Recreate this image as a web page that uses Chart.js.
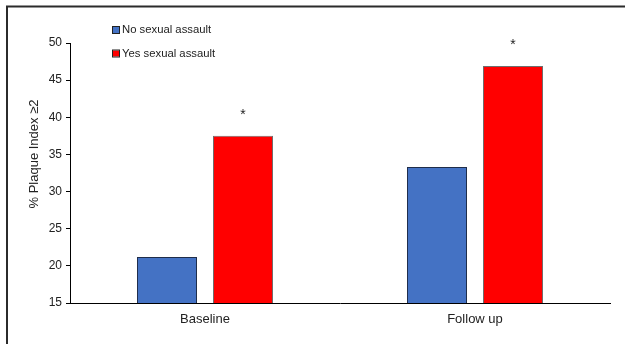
<!DOCTYPE html>
<html>
<head>
<meta charset="utf-8">
<script src="https://cdn.jsdelivr.net/npm/chart.js@4"></script>
<style>
  html, body { margin: 0; padding: 0; background: #fff; }
  #wrap { width: 625px; height: 344px; }
</style>
</head>
<body>
<div id="wrap"><canvas id="chart" width="625" height="344"></canvas></div>
<script>
const categories = ["Baseline", "Follow up"]
const noAssault = [21.2, 33.3]
const yesAssault = [37.5, 46.9]
const yesMarks = ["*", "*"]
const yTicks = [15, 20, 25, 30, 35, 40, 45, 50]
const yTitle = "% Plaque Index \u22652"

const FONT = "'Liberation Sans', Arial, sans-serif"

// frame, legend, y title and significance marks
const extras = {
  id: "extras",
  beforeDraw(chart) {
    const ctx = chart.ctx
    ctx.save()
    ctx.strokeStyle = "#2b2b2b"
    ctx.lineWidth = 2
    ctx.beginPath()
    ctx.moveTo(7, 360)
    ctx.lineTo(7, 6.5)
    ctx.lineTo(640, 6.5)
    ctx.stroke()
    ctx.restore()
  },
  afterDatasetsDraw(chart) {
    const ctx = chart.ctx
    ctx.save()
    ctx.fillStyle = "#222"
    ctx.font = "14px " + FONT
    ctx.textAlign = "center"
    ctx.textBaseline = "alphabetic"
    chart.getDatasetMeta(1).data.forEach((el, i) => {
      ctx.fillText(yesMarks[i], el.x, el.y - 17)
    })
    ctx.restore()
  },
  afterDraw(chart) {
    const ctx = chart.ctx
    ctx.save()
    // legend
    ctx.font = "11.3px " + FONT
    ctx.textBaseline = "middle"
    chart.data.datasets.forEach((ds, i) => {
      const y = 30 + i * 23.5
      ctx.fillStyle = ds.backgroundColor
      ctx.fillRect(113, y - 3, 6, 6)
      ctx.strokeStyle = "#222"
      ctx.lineWidth = 1
      ctx.strokeRect(112.5, y - 3.5, 7, 7)
      ctx.fillStyle = "#222"
      ctx.textAlign = "left"
      ctx.fillText(ds.label, 122, y)
    })
    // y title
    ctx.translate(34, 154)
    ctx.rotate(-Math.PI / 2)
    ctx.font = "13px " + FONT
    ctx.textAlign = "center"
    ctx.fillText(yTitle, 0, 0)
    ctx.restore()
  }
}

new Chart(document.getElementById("chart"), {
  type: "bar",
  data: {
    labels: categories,
    datasets: [
      {
        label: "No sexual assault",
        data: noAssault,
        backgroundColor: "#4472c4",
        borderColor: "#1f2d4a",
        borderWidth: 1
      },
      {
        label: "Yes sexual assault",
        data: yesAssault,
        backgroundColor: "#ff0000",
        borderColor: "#6e6e6e",
        borderWidth: 1
      }
    ]
  },
  options: {
    responsive: false,
    animation: false,
    devicePixelRatio: 1,
    categoryPercentage: 0.563,
    barPercentage: 0.79,
    layout: { padding: { top: 43, right: 15, left: 0, bottom: 0 } },
    plugins: {
      legend: { display: false },
      tooltip: { enabled: false }
    },
    scales: {
      x: {
        grid: { display: false, drawTicks: false },
        border: { display: true, color: "#000", width: 1 },
        ticks: { color: "#222", font: { family: FONT, size: 13 }, padding: 9 },
        afterFit: (s) => { s.height = 41 }
      },
      y: {
        min: 15,
        max: 50,
        afterBuildTicks: (s) => { s.ticks = yTicks.map(v => ({ value: v })) },
        grid: { display: true, drawOnChartArea: false, drawTicks: true, tickLength: 4, color: "#000" },
        border: { display: true, color: "#000", width: 1 },
        ticks: { color: "#222", font: { family: FONT, size: 12 }, padding: 4 },
        afterFit: (s) => { s.width = 70 }
      }
    }
  },
  plugins: [extras]
})
</script>
</body>
</html>
